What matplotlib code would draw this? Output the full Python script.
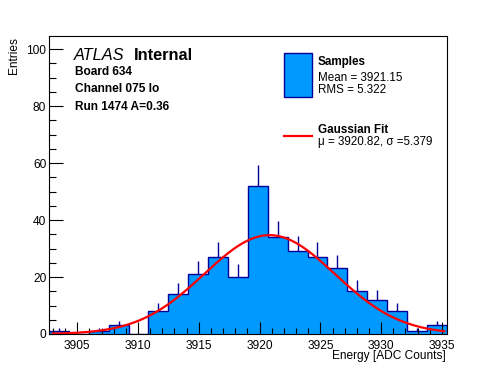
import numpy as np
import matplotlib
matplotlib.use("Agg")
import matplotlib.pyplot as plt
from matplotlib.patches import Rectangle
from matplotlib.lines import Line2D
from matplotlib.ticker import MultipleLocator

plt.rcParams['font.family'] = ['Liberation Sans', 'DejaVu Sans']

# histogram data
x_lo, x_hi = 3902.68, 3935.39
counts = [1, 0, 1, 3, 0, 8, 14, 21, 27, 20, 52, 34, 29, 27, 23, 15, 12, 8, 1, 3]

# gaussian fit
fit_mu = 3920.82
fit_sigma = 5.379
fit_amp = 34.7

header_lines = ["Board 634", "Channel 075 lo", "Run 1474 A=0.36"]
legend_hist = ["Samples", "Mean = 3921.15", "RMS = 5.322"]
legend_fit = ["Gaussian Fit", "\u03bc = 3920.82, \u03c3 =5.379"]

W, H = 496, 372
fill_col = "#0099ff"
edge_col = "#000099"


def fx(x):
    return x / W


def fy(y):
    return 1 - y / H


fig = plt.figure(figsize=(W / 100, H / 100), dpi=100)
ax = fig.add_axes([fx(49), fy(334), fx(446.7 - 49), (334 - 36) / H])

counts = np.array(counts, dtype=float)
edges = np.linspace(x_lo, x_hi, len(counts) + 1)
centers = 0.5 * (edges[:-1] + edges[1:])

ax.stairs(counts, edges, fill=True, color=fill_col, lw=0)
ax.stairs(counts, edges, baseline=0, color=edge_col, lw=1.0)

nz = counts > 0
ax.vlines(centers[nz], counts[nz], counts[nz] + np.sqrt(counts[nz]),
          color=edge_col, lw=1.0)

xs = np.linspace(x_lo + 0.3, x_hi - 0.2, 300)
ax.plot(xs, fit_amp * np.exp(-0.5 * ((xs - fit_mu) / fit_sigma) ** 2),
        color="red", lw=1.6)

ax.set_xlim(x_lo, x_hi)
ax.set_ylim(0, 104.6)
ax.xaxis.set_major_locator(MultipleLocator(5))
ax.xaxis.set_minor_locator(MultipleLocator(1))
ax.yaxis.set_major_locator(MultipleLocator(20))
ax.yaxis.set_minor_locator(MultipleLocator(5))
ax.tick_params(which="both", direction="in", top=False, right=False,
               labelsize=8.6, width=0.8)
ax.tick_params(axis="x", which="major", length=9, pad=4)
ax.tick_params(axis="x", which="minor", length=4.5)
ax.tick_params(axis="y", which="major", length=10, pad=2)
ax.tick_params(axis="y", which="minor", length=5)
for s in ax.spines.values():
    s.set_linewidth(0.8)

fig.text(fx(446), fy(359.5), "Energy [ADC Counts]", ha="right",
         va="baseline", fontsize=8.6)
fig.text(fx(16.5), fy(37), "Entries", ha="right", va="baseline",
         rotation=90, fontsize=8.6, rotation_mode="anchor")

# ATLAS label
fig.text(fx(73.5), fy(60.5), "ATLAS", style="italic", fontsize=11.8,
         va="baseline")
fig.text(fx(134), fy(60.5), "Internal", weight="bold", fontsize=11.8,
         va="baseline")
for i, line in enumerate(header_lines):
    fig.text(fx(75), fy(75 + 17.5 * i), line, weight="bold", fontsize=8.6,
             va="baseline")

# legend
fig.add_artist(Rectangle((fx(283.5), fy(96.7)), fx(311.7 - 283.5),
                         (96.7 - 53.3) / H, transform=fig.transFigure,
                         facecolor=fill_col, edgecolor=edge_col, lw=1.0))
fig.text(fx(317.7), fy(65), legend_hist[0], weight="bold", fontsize=8.4,
         va="baseline")
fig.text(fx(317.7), fy(80.8), legend_hist[1], fontsize=8.4, va="baseline")
fig.text(fx(317.7), fy(93.3), legend_hist[2], fontsize=8.4, va="baseline")

fig.add_artist(Line2D([fx(283.5), fx(311.7)], [fy(136), fy(136)],
                      transform=fig.transFigure, color="red", lw=1.6))
fig.text(fx(317.7), fy(133.3), legend_fit[0], weight="bold", fontsize=8.4,
         va="baseline")
fig.text(fx(317.7), fy(145.5), legend_fit[1], fontsize=8.4, va="baseline")

fig.savefig("out.png", dpi=100)
